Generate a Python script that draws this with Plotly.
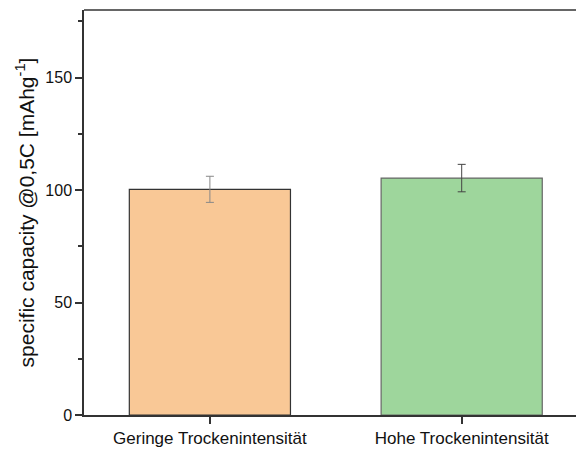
import plotly.graph_objects as go

categories = ["Geringe Trockenintensität", "Hohe Trockenintensität"]
values = [100.3, 105.3]
errors = [5.8, 6.1]
colors = ["#F9C896", "#9ED69C"]
outline_colors = ["#333333", "#666666"]
errbar_colors = ["#888888", "#444444"]

fig = go.Figure()
for i in range(len(values)):
    fig.add_trace(go.Bar(
        x=[i], y=[values[i]], width=0.64,
        marker=dict(color=colors[i], line=dict(color=outline_colors[i], width=1.2)),
        error_y=dict(type="data", array=[errors[i]], visible=True,
                     color=errbar_colors[i], thickness=1, width=4),
    ))

fig.update_layout(
    width=576, height=452,
    margin=dict(l=84, r=0, t=10, b=37),
    plot_bgcolor="white", paper_bgcolor="white",
    font=dict(family="Liberation Sans, Arial", color="#111111"),
    showlegend=False,
    barmode="overlay",
    xaxis=dict(
        range=[-0.5, 1.454], tickmode="array", tickvals=[0, 1], ticktext=categories,
        showline=True, linecolor="#333333", linewidth=1.5, ticks="outside", ticklen=7,
        tickcolor="#333333", tickwidth=1.5, showgrid=False, zeroline=False,
        tickfont=dict(size=17),
    ),
    yaxis=dict(
        range=[0, 180], tickvals=[0, 50, 100, 150],
        showline=True, linecolor="#333333", linewidth=1.5, ticks="outside", ticklen=7,
        tickcolor="#333333", tickwidth=1.5, showgrid=False, zeroline=False,
        tickfont=dict(size=16),
        minor=dict(tickvals=[25, 75, 125, 175], ticks="outside", ticklen=4, tickcolor="#333333", tickwidth=1.5),
        title=dict(text="specific capacity @0,5C [mAhg<sup>-1</sup>]", font=dict(size=21), standoff=5),
    ),
    shapes=[dict(type="line", xref="paper", yref="paper", x0=0, x1=1, y0=1, y1=1,
                 line=dict(color="#333333", width=1.5))],
)

fig.write_html("out.html", config={"displayModeBar": False},
               post_script="document.body.style.margin='0';document.body.style.overflow='hidden';")
